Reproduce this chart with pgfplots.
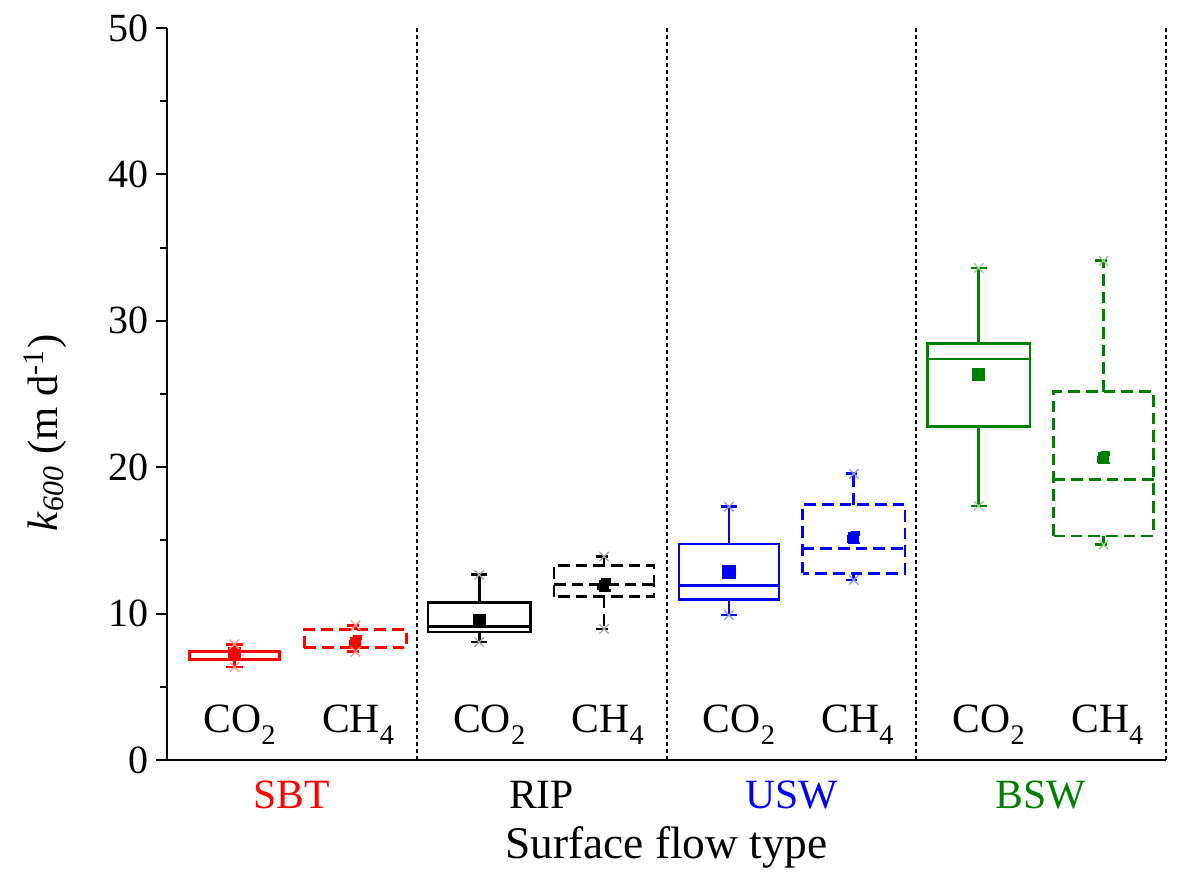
\documentclass[border=0pt]{standalone}
\usepackage{pgfplots}
\pgfplotsset{compat=1.18}
\usepgfplotslibrary{statistics}
\usepackage{fontspec}
\setmainfont{Liberation Serif}
\definecolor{sbtred}{RGB}{255,0,0}
\definecolor{uswblue}{RGB}{0,0,255}
\definecolor{bswgreen}{RGB}{0,128,0}
\newcommand{\sub}[1]{\raisebox{-3.6pt}{\fontsize{8.5}{10}\selectfont #1}}
\begin{document}
\begin{tikzpicture}
\begin{axis}[
  name=ax,
  scale only axis,
  width=299.7pt, height=219.6pt,
  xmin=0, xmax=4, ymin=0, ymax=50,
  axis x line*=bottom, axis y line*=left,
  axis line style={line width=0.75pt, black},
  ytick={0,10,...,50}, minor y tick num=1,
  tick align=outside,
  major tick length=3.4pt, minor tick length=2.2pt,
  y tick style={line width=0.6pt, black},
  xtick={0.5,1.5,2.5,3.5},
  xticklabels={\textcolor{sbtred}{SBT}, RIP, \textcolor{uswblue}{USW}, \textcolor{bswgreen}{BSW}},
  x tick style={draw=none},
  /pgf/number format/assume math mode=true,
  yticklabel style={font=\fontsize{12}{14}\selectfont, xshift=1.4pt},
  xticklabel style={font=\fontsize{12.5}{14}\selectfont, anchor=base, yshift=-11pt},
  xlabel={Surface flow type},
  xlabel style={font=\fontsize{13.6}{15}\selectfont, at={(axis description cs:0.5,0)}, anchor=base, yshift=-29.6pt},
  ylabel={\textit{k}\textsubscript{\textit{600}} (m d\textsuperscript{-1})},
  ylabel style={font=\fontsize{12.8}{14}\selectfont, at={(axis description cs:0,0.5)}, anchor=center, yshift=36.5pt, xshift=-11.7pt},
  clip=false,
  boxplot/draw direction=y,
  boxplot/whisker extend=0.065,
  boxplot/every average/.style={/tikz/mark=square*, /tikz/mark size=1.6pt, /tikz/solid},
]
% separators
\addplot[black, line width=0.6pt, dash pattern=on 1.3pt off 0.8pt] coordinates {(1,0) (1,50)};
\addplot[black, line width=0.6pt, dash pattern=on 1.3pt off 0.8pt] coordinates {(2,0) (2,50)};
\addplot[black, line width=0.6pt, dash pattern=on 1.3pt off 0.8pt] coordinates {(3,0) (3,50)};
\addplot[black, line width=0.6pt, dash pattern=on 1.3pt off 0.8pt] coordinates {(4,0) (4,50)};
% SBT
\addplot[sbtred, line width=0.8pt, solid, boxplot prepared={draw position=0.27, box extend=0.36,
  lower whisker=6.35, lower quartile=6.85, median=6.9, upper quartile=7.4, upper whisker=7.9, average=7.24}] coordinates {};
\addplot[sbtred, line width=0.8pt, dash pattern=on 3.5pt off 1.8pt, boxplot prepared={draw position=0.755, box extend=0.41,
  lower whisker=7.4, lower quartile=7.65, median=7.7, upper quartile=8.9, upper whisker=9.2, average=8.05}] coordinates {};
% RIP
\addplot[black, line width=0.8pt, solid, boxplot prepared={draw position=1.25, box extend=0.41,
  lower whisker=8.05, lower quartile=8.75, median=9.1, upper quartile=10.75, upper whisker=12.65, average=9.5}] coordinates {};
\addplot[black, line width=0.8pt, dash pattern=on 3.5pt off 1.8pt, boxplot prepared={draw position=1.75, box extend=0.40,
  lower whisker=8.95, lower quartile=11.15, median=12.0, upper quartile=13.3, upper whisker=13.9, average=11.95}] coordinates {};
% USW
\addplot[uswblue, line width=0.8pt, solid, boxplot prepared={draw position=2.25, box extend=0.40,
  lower whisker=9.9, lower quartile=10.95, median=11.9, upper quartile=14.75, upper whisker=17.3, average=12.85}] coordinates {};
\addplot[uswblue, line width=0.8pt, dash pattern=on 3.5pt off 1.8pt, boxplot prepared={draw position=2.75, box extend=0.41,
  lower whisker=12.3, lower quartile=12.75, median=14.45, upper quartile=17.45, upper whisker=19.55, average=15.2}] coordinates {};
% BSW
\addplot[bswgreen, line width=0.8pt, solid, boxplot prepared={draw position=3.25, box extend=0.41,
  lower whisker=17.35, lower quartile=22.8, median=27.4, upper quartile=28.45, upper whisker=33.6, average=26.35}] coordinates {};
\addplot[bswgreen, line width=0.8pt, dash pattern=on 3.5pt off 1.8pt, boxplot prepared={draw position=3.75, box extend=0.40,
  lower whisker=14.7, lower quartile=15.3, median=19.15, upper quartile=25.15, upper whisker=34.1, average=20.65}] coordinates {};
% min/max cross marks
\addplot[only marks, mark=x, mark size=2pt, sbtred!40, line width=0.4pt] coordinates {(0.27,6.35) (0.27,7.9) (0.755,7.4) (0.755,9.2)};
\addplot[only marks, mark=x, mark size=2pt, black!35, line width=0.4pt] coordinates {(1.25,8.05) (1.25,12.65) (1.75,8.95) (1.75,13.9)};
\addplot[only marks, mark=x, mark size=2pt, uswblue!40, line width=0.4pt] coordinates {(2.25,9.9) (2.25,17.3) (2.75,12.3) (2.75,19.55)};
\addplot[only marks, mark=x, mark size=2pt, bswgreen!40, line width=0.4pt] coordinates {(3.25,17.35) (3.25,33.6) (3.75,14.7) (3.75,34.1)};
% gas labels
\node[anchor=base, font=\fontsize{12.5}{14}\selectfont] at (axis cs:0.29,1.9) {CO\sub{2}};
\node[anchor=base, font=\fontsize{12.5}{14}\selectfont] at (axis cs:0.765,1.9) {CH\sub{4}};
\node[anchor=base, font=\fontsize{12.5}{14}\selectfont] at (axis cs:1.29,1.9) {CO\sub{2}};
\node[anchor=base, font=\fontsize{12.5}{14}\selectfont] at (axis cs:1.765,1.9) {CH\sub{4}};
\node[anchor=base, font=\fontsize{12.5}{14}\selectfont] at (axis cs:2.29,1.9) {CO\sub{2}};
\node[anchor=base, font=\fontsize{12.5}{14}\selectfont] at (axis cs:2.765,1.9) {CH\sub{4}};
\node[anchor=base, font=\fontsize{12.5}{14}\selectfont] at (axis cs:3.29,1.9) {CO\sub{2}};
\node[anchor=base, font=\fontsize{12.5}{14}\selectfont] at (axis cs:3.765,1.9) {CH\sub{4}};
\end{axis}
\path ([xshift=-50.1pt,yshift=-34.8pt]ax.south west) rectangle ([xshift=5.1pt,yshift=8.4pt]ax.north east);
\end{tikzpicture}
\end{document}
